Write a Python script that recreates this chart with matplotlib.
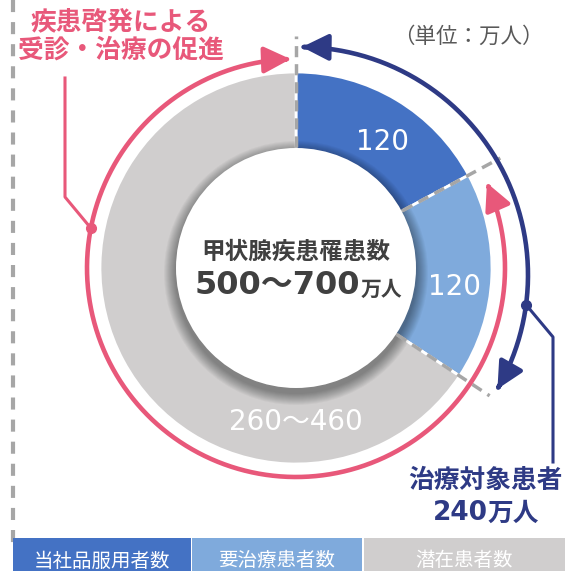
import numpy as np
import matplotlib.pyplot as plt
from matplotlib.patches import Circle, Rectangle, FancyArrowPatch
from matplotlib.path import Path

plt.rcParams['font.family'] = ['Noto Sans CJK JP', 'DejaVu Sans']
NUM_FONT = ['DejaVu Sans', 'Noto Sans CJK JP']

# --- data ---
segments = ['当社品服用者数', '要治療患者数', '潜在患者数']
values = [120, 120, 460]
value_labels = ['120', '120', '260～460']
colors = ['#4472C4', '#7FAADC', '#D0CECE']
total_label = '甲状腺疾患罹患数'
total_range = '500～700'
total_unit = '万人'
target_label = ['治療対象患者', '240', '万人']
awareness_label = ['疾患啓発による', '受診・治療の促進']
unit_label = '（単位：万人）'

PINK = '#E8587A'
NAVY = '#2E3A85'
DASH = '#A6A6A6'

W, H = 565, 571
fig = plt.figure(figsize=(W / 100, H / 100), dpi=100)
ax = fig.add_axes([0, 0, 1, 1])


def Y(p):
    # pixel row -> data y
    return H - p


cx, cy = 296, Y(268)
R, r_in = 196, 120

ax.pie(values, colors=colors, startangle=90, counterclock=False,
       radius=R, center=(cx, cy),
       wedgeprops=dict(linewidth=2, edgecolor='white'))

# soft shadow of the centre hole
for i in range(12, 0, -1):
    ax.add_patch(Circle((cx, cy - 5), r_in + i, color='black', alpha=0.035, lw=0))
ax.add_patch(Circle((cx, cy), r_in, color='white', lw=0, zorder=3))

# dashed boundaries between segments
bounds = 90 - np.cumsum([0] + values[:-1]) / sum(values) * 360
for a in bounds:
    t = np.deg2rad(a)
    ax.plot([cx + 121 * np.cos(t), cx + 232 * np.cos(t)],
            [cy + 121 * np.sin(t), cy + 232 * np.sin(t)],
            color=DASH, lw=2.5, dashes=(3.2, 2.0), zorder=4)

# value labels inside the ring
label_angles = [55.5, -6.8, -90]
label_r = [153, 160, 154]
for txt, a, rr in zip(value_labels, label_angles, label_r):
    t = np.deg2rad(a)
    ax.text(cx + rr * np.cos(t), cy + rr * np.sin(t), txt, color='white',
            fontsize=20, family=NUM_FONT, ha='center', va='center', zorder=5)

# centre text
ax.text(cx, Y(252), total_label, fontsize=17, fontweight='bold',
        color='#404040', ha='center', va='center', zorder=5)
ax.text(cx + 64, Y(286), total_range, fontsize=23, fontweight='bold',
        family=NUM_FONT, color='#404040', ha='right', va='center', zorder=5)
ax.text(cx + 65, Y(289), total_unit, fontsize=15, fontweight='bold',
        color='#404040', ha='left', va='center', zorder=5)


def arc(x0, y0, r, a0, a1, n=300):
    t = np.deg2rad(np.linspace(a0, a1, n))
    return np.column_stack([x0 + r * np.cos(t), y0 + r * np.sin(t)])


head = '<|-|>,head_length=16,head_width=8'

# pink awareness arc (double headed)
pv = arc(cx, cy, 209, 91.5, 384)
ax.add_patch(FancyArrowPatch(path=Path(pv), arrowstyle=head,
                             color=PINK, lw=3.3, shrinkA=0, shrinkB=0, zorder=6))

# navy treatment-target arc
ncx, ncy, nr = 300, Y(275), 228
nv = arc(ncx, ncy, nr, 89.5, -30)
ax.add_patch(FancyArrowPatch(path=Path(nv), arrowstyle=head,
                             color=NAVY, lw=3.3, shrinkA=0, shrinkB=0, zorder=6))

# pink leader
pd = arc(cx, cy, 209, 169, 169, 1)[0]
ax.plot([65, 65, pd[0]], [Y(78), Y(197), pd[1]], color=PINK, lw=2.2, zorder=6)
ax.plot(pd[0], pd[1], 'o', color=PINK, ms=7, zorder=7)

# navy leader
nd = arc(ncx, ncy, nr, -7.5, -7.5, 1)[0]
ax.plot([nd[0], 553, 553], [nd[1], Y(337), Y(462)], color=NAVY, lw=2.2, zorder=6)
ax.plot(nd[0], nd[1], 'o', color=NAVY, ms=7, zorder=7)

# texts
ax.text(121, Y(22), awareness_label[0], fontsize=18.5, fontweight='bold',
        color=PINK, ha='center', va='center')
ax.text(121, Y(50), awareness_label[1], fontsize=18.5, fontweight='bold',
        color=PINK, ha='center', va='center')
ax.text(468, Y(37), unit_label, fontsize=15.5, color='#595959',
        ha='center', va='center')
ax.text(485, Y(480), target_label[0], fontsize=18.5, fontweight='bold',
        color=NAVY, ha='center', va='center')
ax.text(488, Y(513), target_label[1], fontsize=19, fontweight='bold',
        family=NUM_FONT, color=NAVY, ha='right', va='center')
ax.text(488, Y(513), target_label[2], fontsize=18.5, fontweight='bold',
        color=NAVY, ha='left', va='center')

# left dashed rule
ax.plot([13, 13], [H, Y(548)], color=DASH, lw=3, dashes=(2.9, 2.4), zorder=1)

# bottom legend boxes
box_x = [13, 192, 364]
box_w = [178, 170, 201]
for name, c, x, w in zip(segments, colors, box_x, box_w):
    ax.add_patch(Rectangle((x, -5), w, Y(538) + 5, color=c, lw=0, zorder=8))
    ax.text(x + w / 2, Y(561), name, fontsize=14, color='white',
            ha='center', va='center', zorder=9)

ax.set_xlim(0, W)
ax.set_ylim(0, H)
ax.set_aspect('auto')
ax.axis('off')

fig.savefig('out.png', dpi=100)
